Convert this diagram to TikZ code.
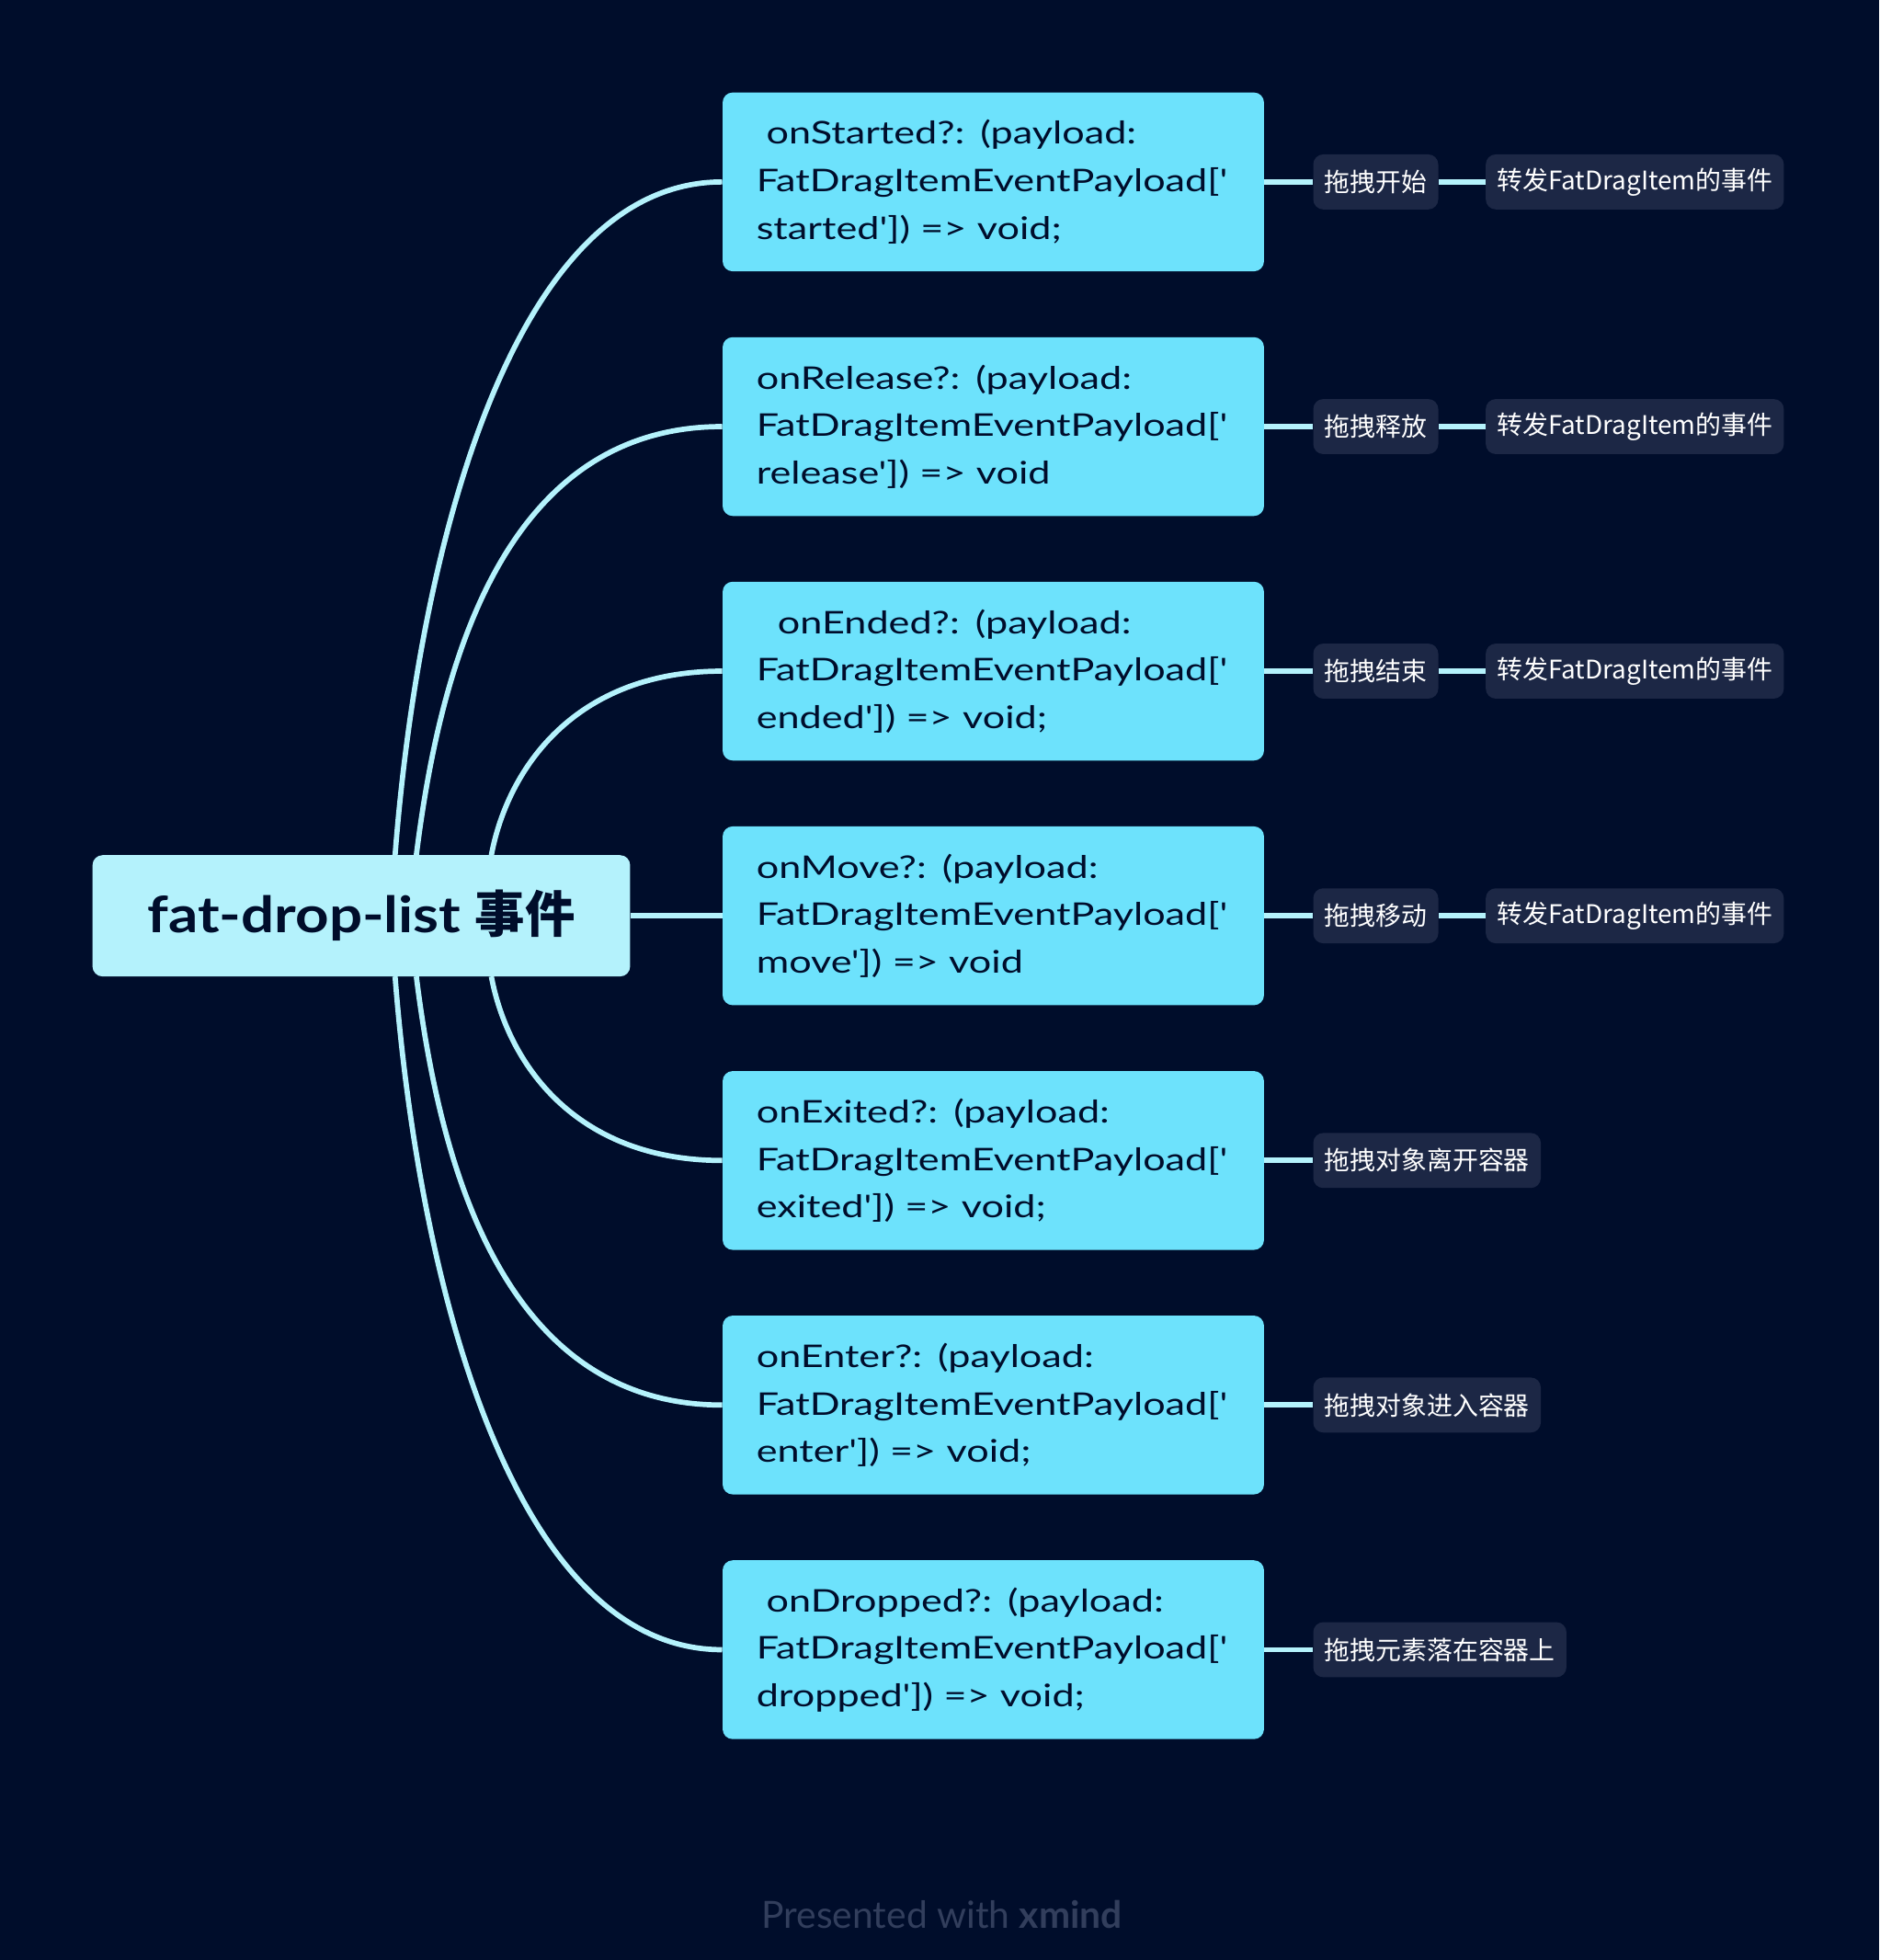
\documentclass[tikz,border=0pt]{standalone}
\usepackage{fontspec}
\setmainfont{Lato}[Ligatures=TeXOff]
\newfontfamily\topicfont{Lato}[FakeStretch=1.27, Ligatures=TeXOff]
\newfontfamily\rootfont{Lato}[FakeStretch=1.17, Ligatures=TeXOff]
\newfontfamily\cjk{Noto Sans CJK SC}
\usetikzlibrary{calc}

\definecolor{canvasbg}{HTML}{000D2B}
\definecolor{rootfill}{HTML}{B4F2FC}
\definecolor{topicfill}{HTML}{6DE2FC}
\definecolor{tagfill}{HTML}{1C2745}
\definecolor{wirecol}{HTML}{B4F2FC}
\definecolor{inkcol}{HTML}{000D2B}
\definecolor{markcol}{HTML}{323E5C}

\pgfdeclarelayer{canvas}
\pgfdeclarelayer{wires}
\pgfsetlayers{canvas,wires,main}

\tikzset{
  rootbox/.style={fill=rootfill, rounded corners=4pt, minimum width=215pt, minimum height=48.5pt, text=inkcol, font=\rootfont\fontsize{20}{24}\selectfont\bfseries},
  topic/.style={fill=topicfill, rounded corners=4pt, text width=189.5pt, inner xsep=13.5pt, inner ysep=0pt, minimum height=71.5pt, align=left, text=inkcol, font=\topicfont\fontsize{12.5}{19}\selectfont},
  tag/.style={fill=tagfill, rounded corners=4pt, inner xsep=4.5pt, inner ysep=0pt, minimum height=22pt, text=white, font=\cjk\fontsize{10.25}{12}\selectfont, anchor=west},
  wire/.style={draw=wirecol, line width=2.1pt},
}

\begin{document}
\begin{tikzpicture}[x=0.5pt,y=-0.5pt]

  % Canvas
  \begin{pgfonlayer}{canvas}
    \fill[canvasbg] (0,0) rectangle (1503,1567.7);
  \end{pgfonlayer}
  \useasboundingbox (0,0) rectangle (1503,1567.7);

  % Root topic
  \node[rootbox] (root) at (289,732.5) {fat-drop-list {\cjk 事件}};

  % Event topics
  \node[topic] (started) at (794.5,145.5) {\hspace*{4pt}onStarted?: (payload:\\FatDragItemEventPayload['\\started']) => void;};
  \node[topic] (release) at (794.5,341.2) {onRelease?: (payload:\\FatDragItemEventPayload['\\release']) => void};
  \node[topic] (ended) at (794.5,536.8) {\hspace*{8.5pt}onEnded?: (payload:\\FatDragItemEventPayload['\\ended']) => void;};
  \node[topic] (move) at (794.5,732.5) {onMove?: (payload:\\FatDragItemEventPayload['\\move']) => void};
  \node[topic] (exited) at (794.5,928.2) {onExited?: (payload:\\FatDragItemEventPayload['\\exited']) => void;};
  \node[topic] (enter) at (794.5,1123.8) {onEnter?: (payload:\\FatDragItemEventPayload['\\enter']) => void;};
  \node[topic] (dropped) at (794.5,1319.5) {\hspace*{4pt}onDropped?: (payload:\\FatDragItemEventPayload['\\dropped']) => void;};

  % Notes
  \node[tag] (startedtag) at (1050,145.5) {拖拽开始};
  \node[tag] (startedfwd) at (1188,145.5) {转发FatDragItem的事件};
  \node[tag] (releasetag) at (1050,341.2) {拖拽释放};
  \node[tag] (releasefwd) at (1188,341.2) {转发FatDragItem的事件};
  \node[tag] (endedtag) at (1050,536.8) {拖拽结束};
  \node[tag] (endedfwd) at (1188,536.8) {转发FatDragItem的事件};
  \node[tag] (movetag) at (1050,732.5) {拖拽移动};
  \node[tag] (movefwd) at (1188,732.5) {转发FatDragItem的事件};
  \node[tag] (exitedtag) at (1050,928.2) {拖拽对象离开容器};
  \node[tag] (entertag) at (1050,1123.8) {拖拽对象进入容器};
  \node[tag] (droppedtag) at (1050,1319.5) {拖拽元素落在容器上};

  % Footer
  \node[text=markcol, font=\fontsize{15}{18}\selectfont] (brand) at (753.5,1531) {Presented with \textbf{xmind}};

  % Branch ends on the root
  \coordinate (up1) at (316,684);
  \coordinate (up2) at (333,684);
  \coordinate (up3) at (393,684);
  \coordinate (dn1) at (316,781);
  \coordinate (dn2) at (333,781);
  \coordinate (dn3) at (393,781);

  \begin{pgfonlayer}{wires}
    % Curved branches
    \draw[wire] (up1) .. controls +(19,-244) and +(-168,0) .. (started.west);
    \draw[wire] (up2) .. controls +(18,-144) and +(-178,0) .. (release.west);
    \draw[wire] (up3) .. controls +(13,-69) and +(-118,0) .. (ended.west);
    \draw[wire] (root.east) -- (move.west);
    \draw[wire] (dn3) .. controls +(13,69) and +(-118,0) .. (exited.west);
    \draw[wire] (dn2) .. controls +(18,144) and +(-178,0) .. (enter.west);
    \draw[wire] (dn1) .. controls +(19,244) and +(-168,0) .. (dropped.west);
    % Note links
    \draw[wire] (started.east) -- (startedtag.west);
    \draw[wire] (startedtag.east) -- (startedfwd.west);
    \draw[wire] (release.east) -- (releasetag.west);
    \draw[wire] (releasetag.east) -- (releasefwd.west);
    \draw[wire] (ended.east) -- (endedtag.west);
    \draw[wire] (endedtag.east) -- (endedfwd.west);
    \draw[wire] (move.east) -- (movetag.west);
    \draw[wire] (movetag.east) -- (movefwd.west);
    \draw[wire] (exited.east) -- (exitedtag.west);
    \draw[wire] (enter.east) -- (entertag.west);
    \draw[wire] (dropped.east) -- (droppedtag.west);
  \end{pgfonlayer}
\end{tikzpicture}
\end{document}
